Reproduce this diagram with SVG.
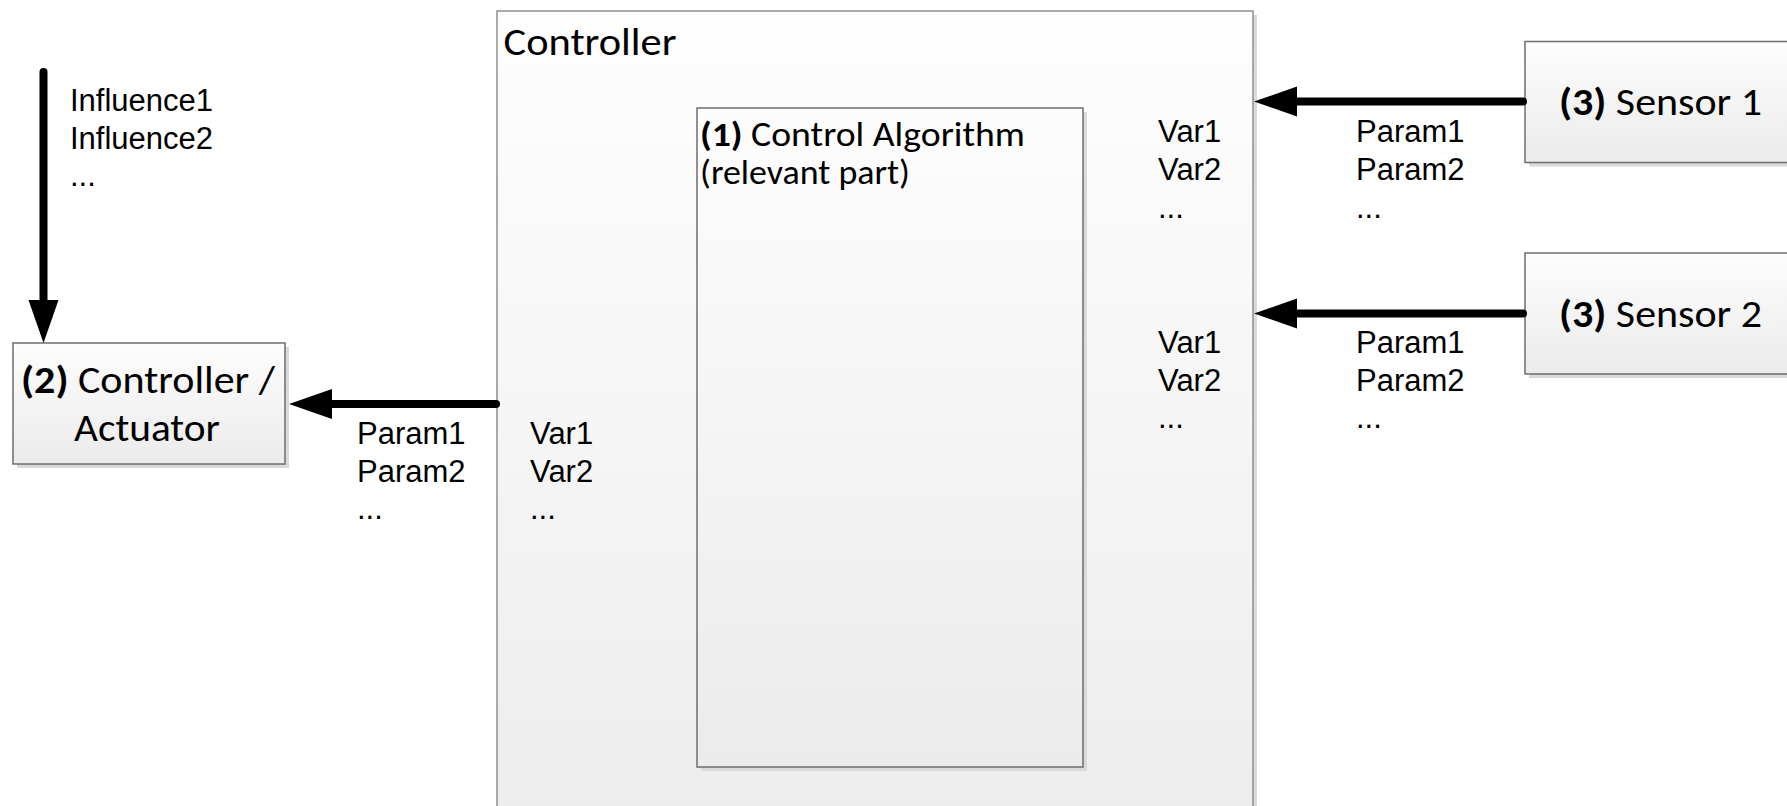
<svg xmlns="http://www.w3.org/2000/svg" width="1787" height="806" viewBox="0 0 1787 806">
  <style>
    .box { stroke: #6e6e6e; stroke-width: 1.5; fill: url(#boxFill); }
    .outer { stroke: #8f8f8f; stroke-width: 1.5; fill: url(#outerFill); }
    .shadow { fill: #dadada; }
    .cal { font-family: Carlito, Calibri, Lato, "Open Sans", sans-serif; fill: #000; }
    .big { font-size: 38px; }
    .mid { font-size: 34px; }
    .b { font-weight: bold; }
    .lbl { font-family: "Liberation Sans", Arial, sans-serif; font-size: 31px; fill: #000; }
    .flow { stroke: #000; stroke-width: 8; stroke-linecap: round; fill: none; marker-end: url(#head); }
  </style>
  <defs>
    <linearGradient id="boxFill" x1="0" y1="0" x2="0" y2="1">
      <stop offset="0" stop-color="#fdfdfd"/>
      <stop offset="1" stop-color="#ebebeb"/>
    </linearGradient>
    <linearGradient id="outerFill" x1="0" y1="0" x2="0" y2="1">
      <stop offset="0" stop-color="#fefefe"/>
      <stop offset="1" stop-color="#ededed"/>
    </linearGradient>
    <marker id="head" markerUnits="userSpaceOnUse" markerWidth="46" markerHeight="32" refX="0" refY="15" orient="auto" overflow="visible">
      <path d="M0,0 L43,15 L0,30 Z" fill="#000"/>
    </marker>
  </defs>

  <rect width="1787" height="806" fill="#fff"/>

  <!-- outer controller frame -->
  <g id="controller">
    <rect class="shadow" x="501" y="15" width="756" height="800"/>
    <rect class="outer" x="497" y="11" width="756" height="800"/>
    <text class="cal big" x="503.5" y="55" textLength="173" lengthAdjust="spacingAndGlyphs">Controller</text>
  </g>

  <!-- control algorithm block -->
  <g id="algorithm">
    <rect class="shadow" x="701" y="112" width="386" height="659"/>
    <rect class="box" x="697" y="108" width="386" height="659" stroke="#5a5a5a"/>
    <text class="cal mid" x="700" y="145.5" textLength="325" lengthAdjust="spacingAndGlyphs"><tspan class="b">(1)</tspan> Control Algorithm</text>
    <text class="cal mid" x="700" y="184" textLength="210" lengthAdjust="spacingAndGlyphs">(relevant part)</text>
  </g>

  <!-- actuator -->
  <g id="actuator">
    <rect class="shadow" x="17" y="347" width="272" height="121"/>
    <rect class="box" x="13" y="343" width="272" height="121"/>
    <text class="cal big" x="21" y="393" textLength="254" lengthAdjust="spacingAndGlyphs"><tspan class="b">(2)</tspan> Controller /</text>
    <text class="cal big" x="74" y="441" textLength="146" lengthAdjust="spacingAndGlyphs">Actuator</text>
  </g>

  <!-- sensors -->
  <g id="sensor1">
    <rect class="shadow" x="1529" y="45.5" width="270" height="121"/>
    <rect class="box" x="1525" y="41.5" width="270" height="121"/>
    <text class="cal big" x="1559" y="115" textLength="203" lengthAdjust="spacingAndGlyphs"><tspan class="b">(3)</tspan> Sensor 1</text>
  </g>
  <g id="sensor2">
    <rect class="shadow" x="1529" y="257" width="270" height="121"/>
    <rect class="box" x="1525" y="253" width="270" height="121"/>
    <text class="cal big" x="1559" y="327" textLength="203" lengthAdjust="spacingAndGlyphs"><tspan class="b">(3)</tspan> Sensor 2</text>
  </g>

  <!-- connectors -->
  <g id="connectors">
    <path class="flow" d="M43.5,72 L43.5,300"/>
    <path class="flow" d="M496,404 L332,404"/>
    <path class="flow" d="M1523,101.5 L1297,101.5"/>
    <path class="flow" d="M1523,313.5 L1297,313.5"/>
  </g>

  <!-- signal labels -->
  <g id="labels" class="lbl">
    <text x="70" y="111">Influence1</text>
    <text x="70" y="148.5">Influence2</text>
    <text x="70" y="186">...</text>

    <text x="357" y="444">Param1</text>
    <text x="357" y="481.5">Param2</text>
    <text x="357" y="519">...</text>

    <text x="530" y="444">Var1</text>
    <text x="530" y="481.5">Var2</text>
    <text x="530" y="519">...</text>

    <text x="1158" y="141.5">Var1</text>
    <text x="1158" y="179.5">Var2</text>
    <text x="1158" y="217.5">...</text>
    <text x="1158" y="353">Var1</text>
    <text x="1158" y="390.5">Var2</text>
    <text x="1158" y="428">...</text>

    <text x="1356" y="141.5">Param1</text>
    <text x="1356" y="179.5">Param2</text>
    <text x="1356" y="217.5">...</text>
    <text x="1356" y="353">Param1</text>
    <text x="1356" y="390.5">Param2</text>
    <text x="1356" y="428">...</text>
  </g>
</svg>
